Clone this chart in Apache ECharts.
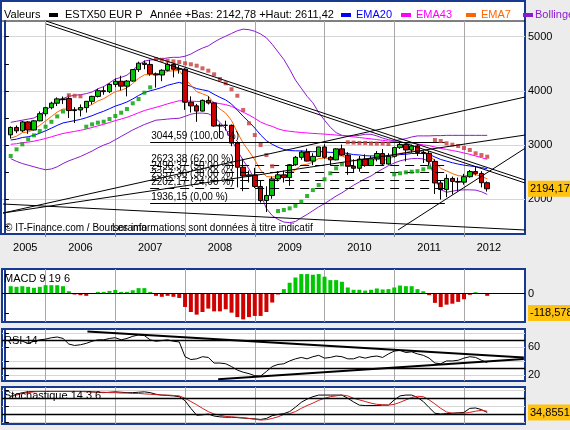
<!DOCTYPE html>
<html>
<head>
<meta charset="utf-8">
<script src="https://cdn.jsdelivr.net/npm/echarts@6/dist/echarts.min.js"></script>
<style>
  html, body { margin: 0; padding: 0; background: #ececec; }
  #main { width: 570px; height: 430px; }
</style>
</head>
<body>
<div id="main"></div>
<script>
// ESTX50 monthly, Jul 2005 .. May 2012 (index 1..83 on the month axis, Jun 2005 = 0)
const years = ['2005', '2006', '2007', '2008', '2009', '2010', '2011', '2012'];
const yearStartIdx = [7, 19, 31, 43, 55, 67, 79];
const yearLabelIdx = [3.5, 13, 25, 37, 49, 61, 73, 83.3];

const opens = [3190,3326,3264,3428,3279,3448,3579,3691,3774,3853,
  3860,3637,3649,3692,3808,3899,4004,3987,4120,4178,
  4088,4182,4393,4512,4489,4315,4294,4381,4489,4410,
  4400,3792,3724,3628,3826,3777,3352,3367,3365,3038,
  2592,2430,2451,2237,1977,2071,2376,2452,2401,2638,
  2775,2872,2705,2792,2966,2776,2728,2931,2817,2610,
  2573,2742,2623,2748,2845,2651,2793,2954,3013,2911,
  2985,2862,2849,2700,2302,2180,2385,2330,2317,2417,
  2512,2477,2306];
const closes = [3326,3264,3428,3279,3448,3579,3691,3774,3853,3839,
  3637,3649,3692,3808,3899,4004,3987,4120,4178,4088,
  4182,4393,4512,4489,4315,4294,4381,4489,4400,4400,
  3792,3724,3628,3826,3777,3352,3367,3365,3038,2592,
  2430,2451,2237,1977,2071,2376,2452,2401,2638,2775,
  2872,2705,2792,2966,2776,2728,2931,2817,2610,2573,
  2742,2623,2748,2845,2651,2793,2954,3013,2911,2985,
  2862,2849,2700,2302,2180,2385,2330,2317,2417,2512,
  2477,2306,2194.17];
const lows = [3120,3220,3240,3208,3270,3440,3532,3660,3720,3760,
  3500,3408,3530,3600,3750,3880,3930,3960,4070,4010,
  3900,4170,4350,4400,4280,4060,4180,4360,4250,4320,
  3650,3600,3430,3620,3750,3340,3130,3270,2980,2220,
  2150,2310,2210,1940,1765,2010,2330,2310,2250,2620,
  2730,2700,2630,2780,2750,2630,2720,2800,2450,2490,
  2510,2600,2620,2700,2620,2640,2770,2930,2700,2860,
  2800,2670,2620,2100,1995,2040,2090,2140,2270,2400,
  2440,2220,2143];
const highs = [3345,3363,3447,3441,3460,3621,3705,3800,3880,3897,
  3930,3700,3750,3810,3910,4040,4080,4140,4230,4280,
  4200,4400,4540,4560,4572,4340,4400,4530,4500,4470,
  4420,3900,3760,3840,3900,3800,3400,3450,3380,3070,
  2750,2530,2580,2350,2240,2420,2520,2530,2650,2800,
  2900,2935,2850,2970,3017,2800,2940,3010,2870,2740,
  2800,2830,2800,2890,2930,2850,2970,3070,3020,3010,
  3010,2900,2890,2740,2340,2460,2420,2400,2470,2540,
  2611,2520,2330];

const ema7 = [3130,3164,3230,3242,3293,3365,3446,3528,3610,3667,
  3659,3657,3666,3701,3751,3814,3857,3923,3987,4012,
  4055,4139,4232,4297,4301,4299,4320,4362,4372,4379,
  4232,4105,3986,3946,3904,3766,3666,3591,3453,3237,
  3036,2889,2726,2539,2422,2411,2421,2416,2471,2547,
  2629,2648,2684,2754,2760,2752,2797,2802,2754,2709,
  2717,2694,2707,2742,2719,2738,2792,2847,2863,2894,
  2886,2877,2832,2700,2570,2524,2475,2436,2431,2451,
  2458,2420,2380];
const ema20 = [3094,3110,3140,3154,3182,3219,3264,3313,3364,3409,
  3431,3452,3474,3506,3543,3587,3625,3672,3720,3755,
  3796,3852,3915,3970,4002,4030,4063,4104,4132,4158,
  4123,4085,4042,4021,3998,3937,3882,3833,3758,3647,
  3531,3429,3316,3188,3082,3015,2962,2920,2900,2895,
  2893,2885,2878,2882,2875,2865,2868,2862,2845,2825,
  2818,2805,2800,2803,2795,2795,2808,2825,2832,2845,
  2846,2846,2832,2780,2735,2705,2675,2650,2630,2615,
  2603,2585,2565];
const ema43 = [3015,3026,3045,3055,3073,3096,3123,3153,3185,3215,
  3234,3253,3273,3297,3325,3355,3384,3418,3452,3481,
  3513,3553,3597,3637,3668,3697,3728,3762,3791,3819,
  3818,3813,3805,3806,3805,3784,3765,3747,3715,3664,
  3607,3555,3495,3426,3380,3345,3300,3270,3255,3243,
  3233,3224,3216,3210,3203,3195,3186,3175,3165,3152,
  3140,3127,3115,3102,3088,3075,3068,3055,3045,3035,
  3022,3005,2990,2965,2940,2920,2900,2880,2855,2830,
  2800,2770,2738];
const bollUpper = [3420,3440,3460,3480,3500,3560,3640,3720,3800,3860,
  3900,3920,3930,3950,3980,4040,4080,4150,4220,4250,
  4290,4380,4480,4550,4570,4580,4590,4610,4620,4620,
  4640,4680,4740,4790,4830,4900,4960,5010,5060,5110,
  5140,5130,5100,5050,4980,4860,4720,4580,4400,4200,
  4050,3900,3780,3600,3460,3330,3230,3180,3170,3170,
  3180,3200,3200,3170,3130,3100,3080,3100,3120,3150,
  3170,3170,3170,3175,3175,3180,3180,3180,3180,3180,
  3180,3180,3180];
const bollLower = [2750,2700,2660,2630,2600,2570,2545,2560,2600,2660,
  2710,2750,2790,2840,2890,2950,3000,3040,3100,3160,
  3220,3280,3330,3380,3420,3460,3470,3480,3490,3495,
  3530,3570,3590,3590,3580,3520,3420,3300,3100,2900,
  2720,2560,2360,2100,1830,1700,1630,1580,1570,1590,
  1660,1720,1790,1860,1920,1990,2060,2120,2190,2260,
  2320,2380,2430,2500,2560,2620,2670,2710,2735,2750,
  2755,2745,2700,2380,2180,2130,2150,2170,2175,2175,
  2170,2140,2090];

// parabolic SAR: value and side (b = below price, green / a = above price, red)
const sarValues = [2799,2922,3015,3107,3180,3260,3340,3430,3530,3620,
  3920,3910,3900,3340,3383,3414,3432,3481,3537,3598,
  3666,3771,3851,3967,4066,4589,4575,4557,4545,4533,
  4509,4491,4465,4417,4373,4306,4220,4140,4030,3911,
  3648,3402,3186,3002,2817,2610,1784,1803,1834,1880,
  1956,2061,2171,2264,2369,2480,2572,2646,3052,3046,
  3040,3040,3030,3030,3030,3020,2461,2480,2498,2510,
  2520,2554,2590,3094,3076,3033,3008,2983,2946,2910,
  2849,2817,2786];
const sarSide = 'bbbbbbbbbb' + 'aaabbbbbbb' + 'bbbbbaaaaa' + 'aaaaaaaaaa' +
  'aaaaaabbbb' + 'bbbbbbbbaa' + 'aaaaaabbbb' + 'bbbaaaaaaa' + 'aaa';

// trend lines drawn on the price panel: [month1, price1, month2, price2]
const trendLines = [
  [7.07, 5290, 89.5, 2356],
  [7.07, 5235, 89.5, 2301],
  [-0.33, 1747, 89.5, 3887],
  [-0.33, 1747, 89.5, 3186],
  [67.65, 1434, 89.5, 2941],
  [-0.33, 1913, 89.5, 1434]
];
const fibLevels = [3044.59, 2623.38, 2490.37, 2357.36, 2202.17, 1936.15];
const fibPct = [100, 62, 50, 38, 24, 0];
const fibRange = [25, 75.7];

const macdHist = [45,41,45,41,35,41,51,51,51,45,
  14,-6,-10,-14,0,10,10,16,22,10,
  10,20,33,33,10,-14,-20,-14,-20,-27,
  -82,-113,-129,-113,-92,-109,-109,-96,-117,-144,
  -158,-144,-137,-137,-113,-55,-6,27,66,98,
  119,119,115,119,103,82,82,72,37,23,
  23,18,23,31,25,27,37,49,45,45,
  27,14,-10,-57,-82,-68,-62,-51,-35,-8,
  8,0,-14];
const macdLast = -118.578;

const rsi = [70,71,68,65,68,70,71,73,74,72,
  64,62,63,65,68,70,70,72,73,70,
  72,75,77,76,70,68,69,70,68,67,
  46,42,43,46,45,37,37,36,32,27,
  24,22,19,18.5,25,32,35,36,40,43,
  45,43,46,48,44,45,47,46,43,43,
  46,44,46,47,45,50,54,55,52,53,
  50,48,44,37,36,40,40,41,44,46,
  45,41,37.7929];
const rsiLevels = [70, 30];
const rsiTrend = [[14.2, 81.8, 89.3, 44.9], [36.7, 14, 89.3, 42.6]];

const stochK = [75,80,84,86,87,87,87,87,87,87,
  87,87,87,87,86,85,84,85,86,85,
  84,84,85,86,84,80,78,77,76,74,
  64,45,28,29,31,26,24,23,23,22,
  21,20,19,17.5,20,27,30,32,37,48,
  60,68,74,78,78,78,78,78,70,61,
  53,52,52,52,53,53,66,76,78,78,
  72,62,47,33,31,32,33,34,35,45,
  46,42,34.8551];
const stochD = [74,78,82,84,86,87,87,87,87,87,
  87,87,87,86,86,85,85,84,84,83,
  83,82,82,81,80,79,78,78,77,76,
  70,62,54,45,37,31,28,25,24,23,
  22,20,18,16,17,20,24,30,32,37,
  45,52,58,65,70,74,76,78,76,70,
  66,62,58,55,54,53,55,60,66,72,
  75,74,66,56,45,36,33,33,33,35,
  38,40,38];
const stochLevels = [70, 30];

const FONT = '"Liberation Sans", Arial, sans-serif';
const FRAME = '#17398f';
const fmt = (v, d) => v.toFixed(d).replace('.', ',');
const pts = arr => arr.map((v, i) => [i + 1, v]);

function xAxisFor(g, withLabels) {
  return {
    type: 'value', gridIndex: g, min: -0.5, max: 89.5,
    axisLine: { show: false },
    axisTick: { show: withLabels, customValues: yearStartIdx, length: 3, lineStyle: { color: '#888' } },
    splitLine: { show: true, lineStyle: { color: '#a8a8a8', width: 1 } },
    axisLabel: withLabels ? {
      customValues: yearLabelIdx, margin: 8, color: '#000', fontSize: 11, fontFamily: FONT,
      formatter: v => {
        let best = 0;
        yearLabelIdx.forEach((p, i) => { if (Math.abs(p - v) < Math.abs(yearLabelIdx[best] - v)) best = i; });
        return years[best];
      }
    } : { show: false }
  };
}

function rightAxis(g, min, max, ticks, labels, boxVal, boxDec, grid) {
  return {
    type: 'value', gridIndex: g, position: 'right', min, max,
    axisLine: { show: true, lineStyle: { color: FRAME, width: 2 } },
    axisTick: { show: true, customValues: ticks, length: 4, lineStyle: { color: '#000' } },
    splitLine: { show: !!grid, lineStyle: { color: '#d6d6d6' } },
    axisLabel: {
      customValues: labels.concat([boxVal]), margin: 3, color: '#000', fontSize: 11, fontFamily: FONT,
      formatter: v => Math.abs(v - boxVal) < 1e-9 ? '{box|' + fmt(v, boxDec) + '}' : String(v),
      rich: { box: { backgroundColor: '#ffc20e', color: '#000', fontSize: 11, fontFamily: FONT, padding: [3, 4, 2, 2] } }
    }
  };
}

const lineSeries = (data, color, xi, yi, width, z) => ({
  type: 'line', xAxisIndex: xi, yAxisIndex: yi, data, showSymbol: false, symbol: 'none',
  lineStyle: { color, width: width || 1 }, z: z || 3, silent: true, clip: true
});

const txt = (x, y, text, color, size) => ({
  type: 'text', x, y, z: 100, silent: true,
  style: { text, fill: color || '#000', font: (size || 11) + 'px ' + FONT, verticalAlign: 'middle' }
});
const box = (x, y, w, h, color) => ({
  type: 'rect', z: 100, silent: true, shape: { x, y, width: w, height: h }, style: { fill: color }
});

const chart = echarts.init(document.getElementById('main'), null, { renderer: 'canvas' });

const panelGrid = (top, height) => ({
  left: 2, right: 45, top, height, show: true, backgroundColor: '#fff', borderColor: FRAME, borderWidth: 2,
  containLabel: false, outerBoundsMode: 'none'
});

const series = [];
series.push(lineSeries(pts(bollUpper), '#8c1ad0', 0, 0));
series.push(lineSeries(pts(bollLower), '#8c1ad0', 0, 0));
series.push(lineSeries(pts(ema43), '#ff00ff', 0, 0));
series.push(lineSeries(pts(ema20), '#0000ff', 0, 0));
series.push(lineSeries(pts(ema7), '#ff6600', 0, 0));
series.push({
  type: 'candlestick', xAxisIndex: 0, yAxisIndex: 0, barWidth: 5, z: 4, silent: true,
  encode: { x: 0, y: [1, 2, 3, 4] },
  data: closes.map((c, i) => [i + 1, opens[i], c, lows[i], highs[i]]),
  itemStyle: { color: '#00c800', color0: '#cc0000', borderColor: '#000', borderColor0: '#000', borderWidth: 1 },
  markLine: {
    silent: true, symbol: ['none', 'none'], animation: false,
    data: fibLevels.map((lv, k) => [
      {
        coord: [fibRange[0], lv], name: fmt(lv, 2) + ' (' + fmt(fibPct[k], 2) + ' %)',
        lineStyle: { color: '#000', width: 1, type: (fibPct[k] === 0 || fibPct[k] === 100) ? 'solid' : [9, 6] }
      },
      { coord: [fibRange[1], lv] }
    ]),
    label: {
      show: true, position: 'insideStartTop', formatter: '{b}', color: '#000',
      fontSize: 10, fontFamily: FONT, distance: [1, 1]
    }
  }
});
series.push({
  type: 'scatter', xAxisIndex: 0, yAxisIndex: 0, symbol: 'rect', symbolSize: 4, z: 5, silent: true,
  data: sarValues.map((v, i) => sarSide[i] === 'b' ? [i + 1, v] : null).filter(Boolean),
  itemStyle: { color: '#00a000' }
});
series.push({
  type: 'scatter', xAxisIndex: 0, yAxisIndex: 0, symbol: 'rect', symbolSize: 4, z: 5, silent: true,
  data: sarValues.map((v, i) => sarSide[i] === 'a' ? [i + 1, v] : null).filter(Boolean),
  itemStyle: { color: '#c83c3c' }
});
trendLines.forEach(t => series.push(lineSeries([[t[0], t[1]], [t[2], t[3]]], '#000', 0, 0, 1, 6)));

series.push({
  type: 'bar', xAxisIndex: 1, yAxisIndex: 2, barWidth: 4, silent: true,
  data: pts(macdHist),
  itemStyle: { color: p => p.value[1] >= 0 ? '#00c800' : '#d00000' },
  markLine: {
    silent: true, symbol: ['none', 'none'], label: { show: false },
    lineStyle: { color: '#000', width: 1, type: 'solid' }, data: [{ yAxis: 0 }]
  }
});

series.push(Object.assign(lineSeries(pts(rsi), '#000', 2, 3), {
  markLine: {
    silent: true, symbol: ['none', 'none'], label: { show: false },
    lineStyle: { color: '#000', width: 1.3, type: 'solid' }, data: rsiLevels.map(v => ({ yAxis: v }))
  }
}));
rsiTrend.forEach(t => series.push(lineSeries([[t[0], t[1]], [t[2], t[3]]], '#000', 2, 3, 2, 4)));

series.push(Object.assign(lineSeries(pts(stochK), '#000', 3, 4), {
  markLine: {
    silent: true, symbol: ['none', 'none'], label: { show: false },
    lineStyle: { color: '#000', width: 1.3, type: 'solid' }, data: stochLevels.map(v => ({ yAxis: v }))
  }
}));
series.push(lineSeries(pts(stochD), '#d02020', 3, 4));

chart.setOption({
  animation: false,
  backgroundColor: '#ececec',
  textStyle: { fontFamily: FONT },
  grid: [
    { left: 2, right: 45, top: 21, height: 213, containLabel: false, outerBoundsMode: 'none' },
    panelGrid(269, 53),
    panelGrid(329, 52),
    panelGrid(387, 37)
  ],
  xAxis: [xAxisFor(0, true), xAxisFor(1, false), xAxisFor(2, false), xAxisFor(3, false)],
  yAxis: [
    rightAxis(0, 1360, 5290, [1500, 2000, 2500, 3000, 3500, 4000, 4500, 5000], [2000, 3000, 4000, 5000], closes[closes.length - 1], 2, false),
    {
      type: 'value', gridIndex: 0, position: 'right', min: 1360, max: 5290,
      axisLine: { show: false }, axisLabel: { show: false },
      axisTick: { show: false, customValues: [2000, 3000, 4000, 5000] },
      splitLine: { show: true, lineStyle: { color: '#d6d6d6' } }
    },
    rightAxis(1, -174, 150, [-118.578, 0, 118.578], [0], macdLast, 3, false),
    rightAxis(2, 11.5, 85.4, [20, 40, 60, 80], [60, 20], rsi[rsi.length - 1], 4, true),
    rightAxis(3, 6.25, 98, [10, 50, 90], [], stochK[stochK.length - 1], 4, true)
  ],
  graphic: [
    { type: 'rect', z: -10, silent: true, shape: { x: 1, y: 1, width: 524, height: 233 },
      style: { fill: '#fff', stroke: FRAME, lineWidth: 2 } },
    { type: 'line', z: -9, silent: true, shape: { x1: 2, y1: 21, x2: 525, y2: 21 },
      style: { stroke: '#000', lineWidth: 1 } },
    txt(4, 15, 'Valeurs'),
    box(49, 13, 9, 4, '#000'),
    txt(65, 15, 'ESTX50 EUR P'),
    txt(150, 15, 'Année +Bas: 2142,78 +Haut: 2611,42'),
    box(341, 13, 10, 4, '#0000ff'),
    txt(356, 15, 'EMA20', '#0000ff'),
    box(401, 13, 10, 4, '#ff00ff'),
    txt(416, 15, 'EMA43', '#ff00ff'),
    box(466, 13, 10, 4, '#ff6600'),
    txt(481, 15, 'EMA7', '#ff6600'),
    box(523, 13, 10, 4, '#8c1ad0'),
    txt(535, 15, 'Bollinger', '#8c1ad0'),
    txt(5, 228, '© IT-Finance.com / Boursorama', '#000', 10),
    txt(112, 228, 'Les informations sont données à titre indicatif', '#000', 10),
    txt(4, 279, 'MACD 9 19 6'),
    txt(4, 341, 'RSI 14'),
    txt(4, 396, 'Stochastique 14 3 6')
  ],
  series
});
</script>
</body>
</html>
